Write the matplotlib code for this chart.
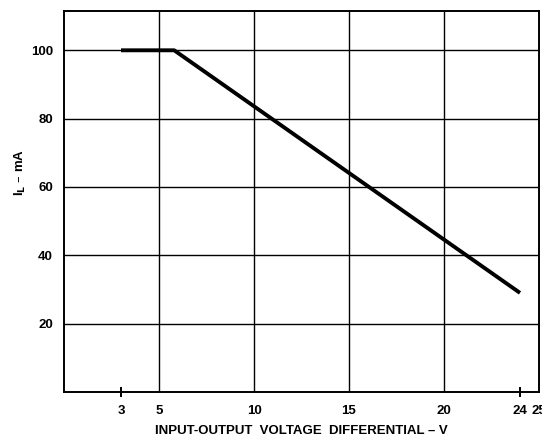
import matplotlib.pyplot as plt

# load current derating curve
v_diff = [3, 5.8, 24]
i_load = [100, 100, 29]

major_x = [5, 10, 15, 20, 25]
marked_x = [3, 24]
y_ticks = [20, 40, 60, 80, 100]
grid_x = [5, 10, 15, 20]

plt.rcParams['font.family'] = ['Liberation Sans', 'DejaVu Sans']

fig = plt.figure(figsize=(5.42, 4.43), dpi=100)
ax = fig.add_axes([64 / 542, 1 - 392 / 443, 475 / 542, 381 / 443])

ax.set_xlim(0, 25)
ax.set_ylim(0, 111.5)

for x in grid_x:
    ax.axvline(x, color='black', lw=1.0, zorder=1)
for y in y_ticks:
    ax.axhline(y, color='black', lw=1.0, zorder=1)

ax.plot(v_diff, i_load, color='black', lw=2.8, solid_capstyle='butt', zorder=3)

for s in ax.spines.values():
    s.set_linewidth(1.4)

fs = 9.5
ax.set_xticks(major_x)
ax.set_xticklabels([str(t) for t in major_x], fontsize=fs, fontweight='bold')
ax.set_xticks(marked_x, minor=True)
ax.set_xticklabels([str(t) for t in marked_x], minor=True, fontsize=fs,
                   fontweight='bold')
ax.tick_params(axis='x', which='major', length=0, pad=9)
ax.tick_params(axis='x', which='minor', length=7, width=1.4,
               direction='inout', pad=5.5)
ax.set_yticks(y_ticks)
ax.set_yticklabels([str(t) for t in y_ticks], fontsize=fs, fontweight='bold')
ax.tick_params(axis='y', length=0, pad=8)

ax.set_xlabel('INPUT-OUTPUT  VOLTAGE  DIFFERENTIAL – V', fontsize=fs,
              fontweight='bold', labelpad=6)
ax.set_ylabel(r'I$_\mathbf{L}$ – mA', fontsize=fs, fontweight='bold')
ax.yaxis.set_label_coords(-0.075, 0.575)

fig.savefig('out.png', dpi=100)
